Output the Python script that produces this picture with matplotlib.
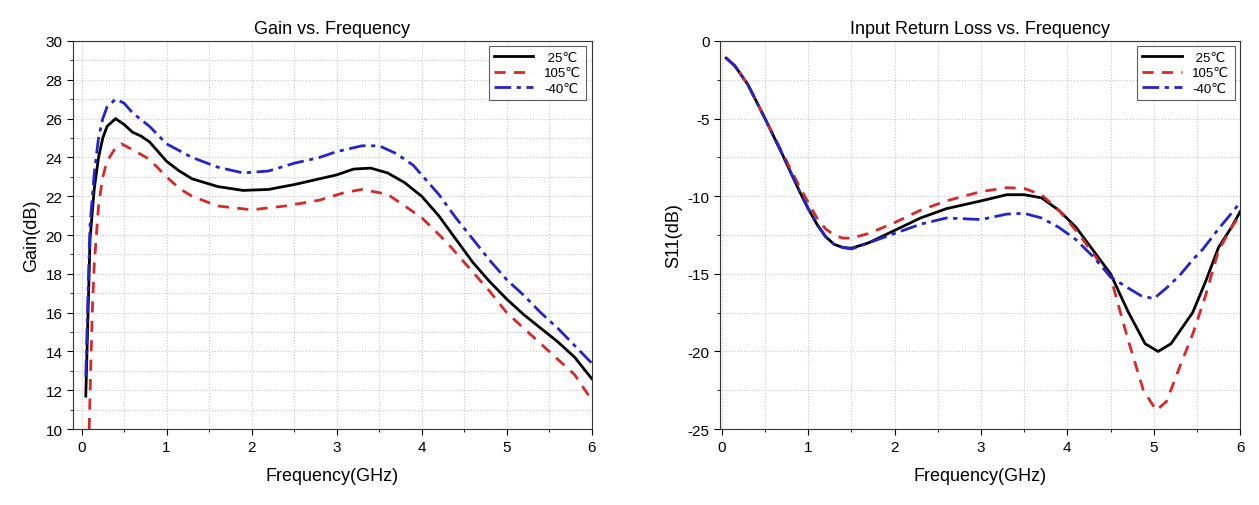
import matplotlib
matplotlib.use("Agg")
import matplotlib.pyplot as plt
from matplotlib.ticker import MultipleLocator

plt.rcParams['font.family'] = ['Liberation Sans', 'DejaVu Sans']
plt.rcParams['axes.unicode_minus'] = False

# Gain vs frequency
gain_f = [0.05, 0.08, 0.1, 0.15, 0.2, 0.25, 0.3, 0.4, 0.5, 0.6, 0.7, 0.8, 1.0, 1.15, 1.3,
          1.6, 1.9, 2.2, 2.5, 2.8, 3.0, 3.2, 3.4, 3.6, 3.8, 4.0, 4.2, 4.4, 4.6, 4.8, 5.0,
          5.2, 5.4, 5.6, 5.8, 6.0]
gain_25 = [11.7, 16.5, 19.8, 22.4, 24.0, 25.0, 25.6, 26.0, 25.7, 25.3, 25.1, 24.8, 23.8, 23.3, 22.9,
           22.5, 22.3, 22.35, 22.6, 22.9, 23.1, 23.4, 23.45, 23.2, 22.7, 22.0, 21.0, 19.8, 18.6, 17.6, 16.7,
           15.9, 15.2, 14.5, 13.7, 12.6]
gain_f105 = [0.09, 0.11, 0.13, 0.15, 0.2, 0.25, 0.3, 0.4, 0.47, 0.6, 0.8, 1.0, 1.15, 1.3,
             1.6, 2.0, 2.4, 2.8, 3.1, 3.3, 3.6, 3.8, 4.0, 4.3, 4.5, 4.8, 5.0,
             5.3, 5.5, 5.8, 6.0]
gain_105 = [10.0, 13.5, 16.5, 18.5, 21.5, 23.0, 23.8, 24.5, 24.7, 24.4, 23.9, 23.0, 22.4, 22.0,
            21.5, 21.3, 21.5, 21.8, 22.2, 22.35, 22.1, 21.5, 20.9, 19.6, 18.6, 17.1, 16.0,
            14.8, 14.0, 12.8, 11.5]
gain_fm40 = [0.05, 0.08, 0.1, 0.15, 0.2, 0.25, 0.3, 0.4, 0.5, 0.6, 0.8, 1.0, 1.3, 1.6, 1.9,
             2.2, 2.5, 2.8, 3.0, 3.3, 3.5, 3.7, 3.9, 4.0, 4.2, 4.4, 4.6, 4.8, 5.0,
             5.2, 5.4, 5.6, 5.8, 6.0]
gain_m40 = [12.7, 17.5, 20.5, 23.2, 25.0, 26.0, 26.6, 27.0, 26.8, 26.3, 25.6, 24.7, 24.0, 23.5, 23.2,
            23.3, 23.7, 24.0, 24.3, 24.6, 24.6, 24.2, 23.6, 23.1, 22.1, 20.9, 19.8, 18.7, 17.7,
            16.9, 16.0, 15.2, 14.3, 13.4]

# S11 vs frequency
s11_f = [0.05, 0.15, 0.3, 0.5, 0.7, 0.9, 1.0, 1.1, 1.2, 1.3, 1.4, 1.5, 1.7, 2.0, 2.3, 2.6,
         3.0, 3.3, 3.5, 3.7, 3.9, 4.1, 4.3, 4.5]
s11_25 = [-1.1, -1.6, -2.8, -5.0, -7.3, -9.7, -10.8, -11.8, -12.6, -13.1, -13.3, -13.35, -13.0, -12.2, -11.4, -10.8,
          -10.3, -9.9, -9.9, -10.1, -10.9, -12.0, -13.5, -15.0]
s11_105 = [-1.1, -1.6, -2.8, -5.0, -7.2, -9.4, -10.4, -11.4, -12.1, -12.5, -12.7, -12.7, -12.4, -11.7, -10.9, -10.3,
           -9.7, -9.45, -9.5, -9.9, -10.9, -12.2, -13.7, -15.2]
s11_m40 = [-1.1, -1.6, -2.8, -5.0, -7.3, -9.7, -10.8, -11.8, -12.6, -13.1, -13.3, -13.4, -13.0, -12.4, -11.8, -11.4,
           -11.5, -11.15, -11.1, -11.4, -12.0, -12.8, -13.9, -15.2]
# the three curves separate after 4.5 GHz
tail_f25 = [4.7, 4.9, 5.05, 5.2, 5.3, 5.45, 5.6, 5.75, 5.9, 6.0]
tail_25 = [-17.4, -19.5, -20.0, -19.5, -18.7, -17.5, -15.5, -13.3, -12.0, -11.0]
tail_f105 = [4.7, 4.88, 5.03, 5.15, 5.3, 5.45, 5.6, 5.75, 5.9, 6.0]
tail_105 = [-19.2, -22.5, -23.8, -23.2, -21.0, -18.9, -16.4, -13.5, -12.0, -11.2]
tail_fm40 = [4.7, 4.85, 5.0, 5.15, 5.3, 5.45, 5.57, 5.75, 5.9, 6.0]
tail_m40 = [-15.9, -16.4, -16.6, -15.9, -15.1, -14.1, -13.4, -12.1, -11.1, -10.4]

labels = [' 25℃', '105℃', '-40℃']

fig = plt.figure(figsize=(12.59, 5.06), dpi=100)
ax1 = fig.add_axes([0.058, 0.15, 0.412, 0.767])
ax2 = fig.add_axes([0.572, 0.15, 0.413, 0.767])

red = '#d42a2a'
blue = '#2424c8'
dash = (0, (4, 3))
dashdot = (0, (6, 2, 1.5, 2))


def style(ax):
    ax.grid(True, which='both', linestyle=':', color='#c8c8c8', linewidth=0.8)
    ax.xaxis.set_major_locator(MultipleLocator(1))
    ax.xaxis.set_minor_locator(MultipleLocator(0.5))
    ax.tick_params(which='both', direction='out', labelsize=11)
    ax.tick_params(which='major', length=4)
    ax.tick_params(which='minor', length=2.5)
    ax.set_xlabel('Frequency(GHz)', fontsize=13, labelpad=10)
    for s in ax.spines.values():
        s.set_color('#333333')
    leg = ax.legend(loc='upper right', fontsize=9.5, frameon=True, fancybox=False,
                    edgecolor='#333333', handlelength=3, borderaxespad=0.4, labelspacing=0.25)
    leg.get_frame().set_linewidth(0.8)


ax1.plot(gain_f, gain_25, color='black', lw=2, label=labels[0])
ax1.plot(gain_f105, gain_105, color=red, lw=2, ls=dash, label=labels[1])
ax1.plot(gain_fm40, gain_m40, color=blue, lw=2, ls=dashdot, label=labels[2])
ax1.set_xlim(-0.1, 6)
ax1.set_ylim(10, 30)
ax1.yaxis.set_major_locator(MultipleLocator(2))
ax1.yaxis.set_minor_locator(MultipleLocator(1))
ax1.set_ylabel('Gain(dB)', fontsize=13)
ax1.set_title('Gain vs. Frequency', fontsize=13, pad=6)
style(ax1)

ax2.plot(s11_f + tail_f25, s11_25 + tail_25, color='black', lw=2, label=labels[0])
ax2.plot(s11_f + tail_f105, s11_105 + tail_105, color=red, lw=2, ls=dash, label=labels[1])
ax2.plot(s11_f + tail_fm40, s11_m40 + tail_m40, color=blue, lw=2, ls=dashdot, label=labels[2])
ax2.set_xlim(-0.02, 6)
ax2.set_ylim(-25, 0)
ax2.yaxis.set_major_locator(MultipleLocator(5))
ax2.yaxis.set_minor_locator(MultipleLocator(2.5))
ax2.set_ylabel('S11(dB)', fontsize=13)
ax2.set_title('Input Return Loss vs. Frequency', fontsize=13, pad=6)
style(ax2)

fig.savefig('out.png', dpi=100)
